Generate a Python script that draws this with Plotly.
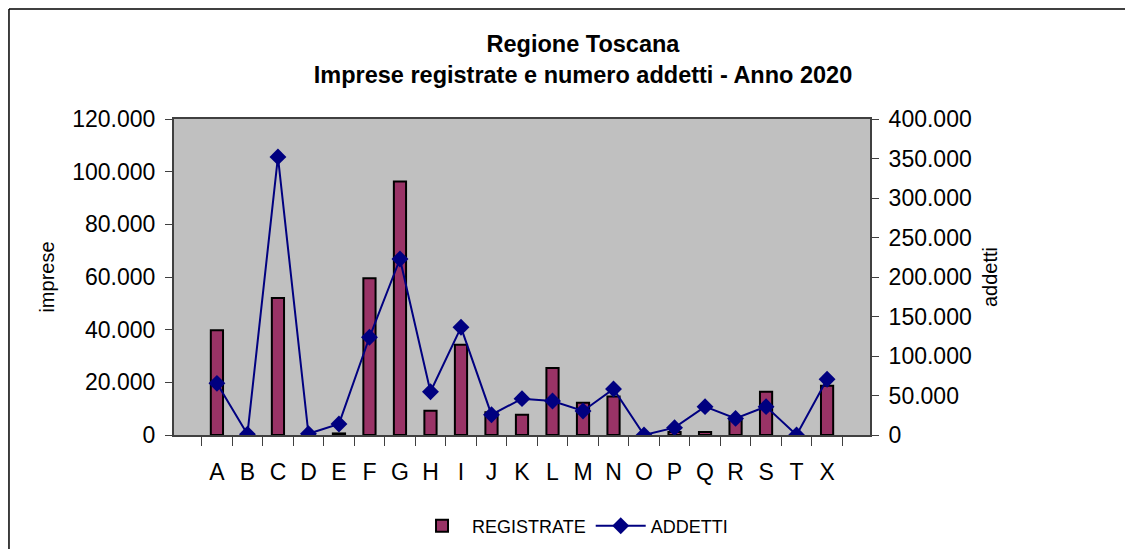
import plotly.graph_objects as go

# Sezioni ATECO
categories = ["A", "B", "C", "D", "E", "F", "G", "H", "I", "J", "K",
              "L", "M", "N", "O", "P", "Q", "R", "S", "T", "X"]

# imprese registrate (asse sinistro)
registrate = [39800, 300, 52000, 300, 600, 59500, 96300, 9200, 34300, 8600, 7700,
              25400, 12200, 14600, 0, 1100, 1100, 5700, 16400, 0, 18700]

# addetti (asse destro)
addetti = [65400, 1000, 352000, 1500, 14000, 123700, 222800, 54800, 136300, 25700, 46000,
           43000, 30400, 58200, 0, 9300, 35900, 21000, 35900, 0, 70500]

FONT = "Liberation Sans, Arial, sans-serif"

fig = go.Figure()

fig.add_trace(go.Bar(
    x=categories,
    y=registrate,
    name="REGISTRATE",
    marker=dict(color="#993366", line=dict(color="black", width=2)),
    yaxis="y"
))

fig.add_trace(go.Scatter(
    x=categories,
    y=addetti,
    name="ADDETTI",
    mode="lines+markers",
    line=dict(color="#000080", width=2),
    marker=dict(symbol="diamond", size=13, color="#000080"),
    yaxis="y2"
))

# cornice del grafico
fig.add_shape(type="line", xref="paper", yref="paper",
              x0=-0.2371, x1=1.4, y0=1.3481, y1=1.3481,
              line=dict(color="black", width=1.5))
fig.add_shape(type="line", xref="paper", yref="paper",
              x0=-0.2371, x1=-0.2371, y0=1.3481, y1=-0.45,
              line=dict(color="black", width=1.5))

# la pagina ha 8px di margine sul body: aree spostate di conseguenza
fig.update_layout(
    width=1133,
    height=549,
    margin=dict(l=166, r=271, t=111, b=122, autoexpand=False),
    paper_bgcolor="white",
    plot_bgcolor="#C0C0C0",
    separators=",.",
    font=dict(family=FONT, size=23, color="black"),
    title=dict(
        text="<b>Regione Toscana<br>Imprese registrate e numero addetti - Anno 2020</b>",
        x=575 / 1133, xanchor="center", xref="container",
        y=1 - 44 / 549, yanchor="middle", yref="container",
        font=dict(family=FONT, size=23.5, color="black")
    ),
    bargap=0.6,
    showlegend=True,
    legend=dict(
        orientation="h",
        x=0.342, xanchor="left",
        y=-0.288, yanchor="middle",
        itemwidth=50,
        font=dict(family=FONT, size=18),
        bgcolor="rgba(0,0,0,0)"
    ),
    xaxis=dict(
        type="category",
        automargin=False,
        showline=True, linecolor="#404040", linewidth=2,
        mirror=True,
        ticks="outside", tickson="boundaries", ticklen=9,
        tickcolor="#404040", tickwidth=1,
        tickfont=dict(size=23), tickangle=0,
        ticklabelstandoff=15,
        showgrid=False
    ),
    yaxis=dict(
        automargin=False,
        title=dict(text="imprese", font=dict(size=20), standoff=12),
        range=[0, 120000], dtick=20000,
        tickformat=",.0f",
        showline=True, linecolor="#404040", linewidth=2,
        ticks="outside", ticklen=7, tickcolor="#404040",
        tickfont=dict(size=23), ticklabelstandoff=5,
        showgrid=False, zeroline=False
    ),
    yaxis2=dict(
        automargin=False,
        title=dict(text="addetti", font=dict(size=20), standoff=12),
        overlaying="y", side="right",
        range=[0, 400000], dtick=50000,
        tickformat=",.0f",
        showline=True, linecolor="#404040", linewidth=2,
        ticks="outside", ticklen=7, tickcolor="#404040",
        tickfont=dict(size=23), ticklabelstandoff=5,
        showgrid=False, zeroline=False
    )
)

fig.write_html("out.html")
